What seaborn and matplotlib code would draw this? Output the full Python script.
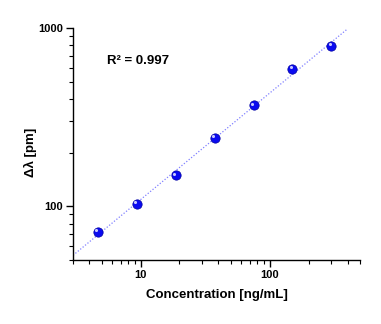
import numpy as np
import pandas as pd
import matplotlib
matplotlib.use("Agg")
import matplotlib.pyplot as plt
import matplotlib.transforms as mtransforms
from matplotlib.ticker import LogLocator, NullFormatter, FixedLocator, FixedFormatter
import seaborn as sns

# Calibration data
concentration = [4.6875, 9.375, 18.75, 37.5, 75, 150, 300]   # ng/mL
shift_pm = [72, 103, 149, 242, 369, 589, 795]                 # pm
r_squared_text = "R² = 0.997"

df = pd.DataFrame({"conc": concentration, "shift": shift_pm})

sns.set_theme(style="ticks")
plt.rcParams["font.family"] = ["Liberation Sans", "DejaVu Sans"]
plt.rcParams["font.weight"] = "bold"
plt.rcParams["text.color"] = "black"
plt.rcParams["axes.labelcolor"] = "black"
plt.rcParams["xtick.color"] = "black"
plt.rcParams["ytick.color"] = "black"

fig = plt.figure(figsize=(3.81, 3.24), dpi=100)
ax = fig.add_axes([0.1916, 0.1975, 0.7534, 0.7161])

# Power-law fit in log-log space
slope, intercept = np.polyfit(np.log10(df["conc"]), np.log10(df["shift"]), 1)
xfit = np.logspace(np.log10(3), np.log10(400), 100)
yfit = 10 ** (intercept + slope * np.log10(xfit))
ax.plot(xfit, yfit, ls=(0, (1, 1.5)), lw=0.9, color="#8080ff", zorder=1)

sns.scatterplot(data=df, x="conc", y="shift", ax=ax, s=45, color="#0a0af0",
                edgecolor="#0000a0", linewidth=0.5, zorder=3, legend=False)
# glossy highlight on each sphere
hl = mtransforms.offset_copy(ax.transData, fig=fig, x=-1.2, y=1.2, units="points")
ax.scatter(df["conc"], df["shift"], s=5, color="#c8c8ff", linewidths=0,
           transform=hl, zorder=4)

ax.set_xscale("log")
ax.set_yscale("log")
ax.set_xlim(3, 500)
ax.set_ylim(50, 1000)

ax.xaxis.set_major_locator(FixedLocator([10, 100]))
ax.xaxis.set_major_formatter(FixedFormatter(["10", "100"]))
ax.yaxis.set_major_locator(FixedLocator([100, 1000]))
ax.yaxis.set_major_formatter(FixedFormatter(["100", "1000"]))
ax.xaxis.set_minor_locator(LogLocator(base=10, subs=np.arange(2, 10)))
ax.yaxis.set_minor_locator(LogLocator(base=10, subs=np.arange(2, 10)))
ax.xaxis.set_minor_formatter(NullFormatter())
ax.yaxis.set_minor_formatter(NullFormatter())

ax.tick_params(which="major", direction="out", length=5, width=1, labelsize=8,
               color="black", labelcolor="black", pad=2)
ax.tick_params(which="minor", direction="out", length=3, width=0.8, color="black")
for lbl in ax.get_xticklabels() + ax.get_yticklabels():
    lbl.set_fontweight("bold")

for side in ["top", "right"]:
    ax.spines[side].set_visible(False)
for side in ["left", "bottom"]:
    ax.spines[side].set_linewidth(1)
    ax.spines[side].set_color("black")

ax.set_xlabel("Concentration [ng/mL]", fontsize=9.5, fontweight="bold", labelpad=7,
              color="black")
ax.set_ylabel("Δλ [pm]", fontsize=9.5, fontweight="bold", color="black")
ax.yaxis.set_label_coords(-0.125, 0.466)

ax.text(0.12, 0.858, r_squared_text, transform=ax.transAxes, fontsize=9.5,
        fontweight="bold", ha="left", va="center", color="black")

fig.savefig("out.png", dpi=100)
